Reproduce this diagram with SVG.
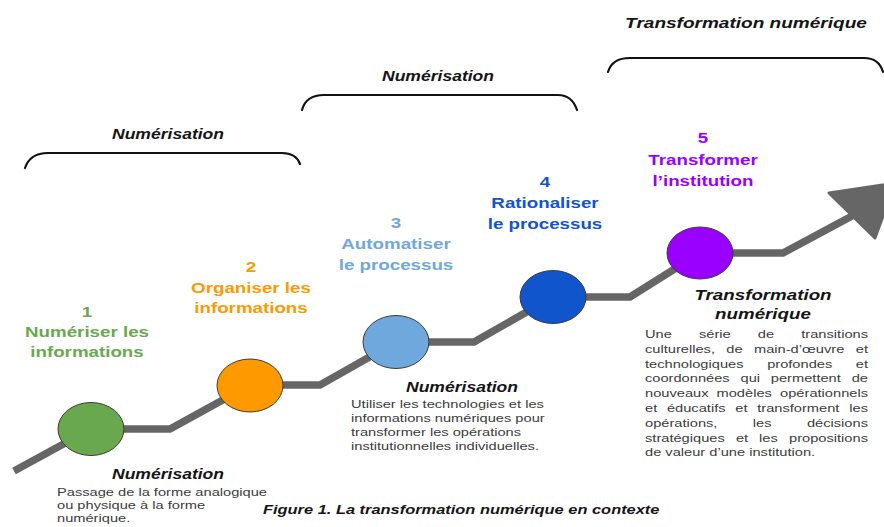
<svg xmlns="http://www.w3.org/2000/svg" width="884" height="527" viewBox="0 0 884 527">
<style>
text{font-family:"Liberation Sans",Arial,sans-serif}
.lbl{font-weight:bold;font-size:15px;text-anchor:middle}
.hd{font-weight:bold;font-style:italic;font-size:15px;fill:#151515;text-anchor:middle}
.body{font-size:11.5px;fill:#3c3c3c}
.end{text-anchor:end}
.brace{fill:none;stroke:#111;stroke-width:2.2;stroke-linecap:round}
.path{fill:none;stroke:#666;stroke-width:7.5;stroke-linejoin:miter}
.node{stroke:#3a3a3a;stroke-width:1}
</style>
<rect width="884" height="527" fill="#fff"/>

<g id="connectors">
<polyline class="path" points="14,471 91,429 170,429 250,385 320,385 396,342 474,342 553,297 630,297 700,253 783,253 852,216"/>
<polygon points="829,193 895,183 875,238" fill="#666" stroke="#666" stroke-width="3" stroke-linejoin="round"/>
</g>

<g id="brace-1">
<path class="brace" d="M25,168 Q30,153 48,153 L282,153 Q296,153 300,164"/>
<text class="hd" transform="translate(168,139) scale(1.17,1)">Numérisation</text>
</g>
<g id="brace-2">
<path class="brace" d="M302,110 Q306,95 324,95 L558,95 Q572,95 577,110"/>
<text class="hd" transform="translate(438,81) scale(1.17,1)">Numérisation</text>
</g>
<g id="brace-3">
<path class="brace" d="M608,72 Q612,58 630,58 L864,58 Q879,58 883,72"/>
<text class="hd" transform="translate(746,28) scale(1.27,1)">Transformation numérique</text>
</g>

<g id="step-1">
<ellipse class="node" cx="91" cy="429" rx="33" ry="26.5" fill="#6aa84f"/>
<g fill="#6aa84f">
<text class="lbl" transform="translate(87,317) scale(1.25,1)">1</text>
<text class="lbl" transform="translate(87,337) scale(1.25,1)">Numériser les</text>
<text class="lbl" transform="translate(87,357) scale(1.25,1)">informations</text>
</g>
<text class="hd" transform="translate(168,479) scale(1.17,1)">Numérisation</text>
<g transform="translate(57,0) scale(1.275,1)">
<text class="body" x="0" y="496">Passage de la forme analogique</text>
<text class="body" x="0" y="509">ou physique à la forme</text>
<text class="body" x="0" y="522">numérique.</text>
</g>
</g>

<g id="step-2">
<ellipse class="node" cx="250" cy="385.5" rx="33" ry="26.5" fill="#ff9900"/>
<g fill="#ff9900">
<text class="lbl" transform="translate(251,272) scale(1.25,1)">2</text>
<text class="lbl" transform="translate(251,293) scale(1.25,1)">Organiser les</text>
<text class="lbl" transform="translate(251,313) scale(1.25,1)">informations</text>
</g>
</g>

<g id="step-3">
<ellipse class="node" cx="396" cy="342" rx="33" ry="26.5" fill="#6fa8dc"/>
<g fill="#6fa8dc">
<text class="lbl" transform="translate(396,228) scale(1.25,1)">3</text>
<text class="lbl" transform="translate(396,249) scale(1.25,1)">Automatiser</text>
<text class="lbl" transform="translate(396,270) scale(1.25,1)">le processus</text>
</g>
<text class="hd" transform="translate(462,392) scale(1.17,1)">Numérisation</text>
<g transform="translate(351,0) scale(1.275,1)">
<text class="body" x="0" y="408">Utiliser les technologies et les</text>
<text class="body" x="0" y="422">informations numériques pour</text>
<text class="body" x="0" y="436">transformer les opérations</text>
<text class="body" x="0" y="450">institutionnelles individuelles.</text>
</g>
</g>

<g id="step-4">
<ellipse class="node" cx="553" cy="297" rx="33" ry="26.5" fill="#1155cc"/>
<g fill="#1155cc">
<text class="lbl" transform="translate(545,187) scale(1.25,1)">4</text>
<text class="lbl" transform="translate(545,208) scale(1.25,1)">Rationaliser</text>
<text class="lbl" transform="translate(545,229) scale(1.25,1)">le processus</text>
</g>
</g>

<g id="step-5">
<ellipse class="node" cx="700" cy="253" rx="33" ry="26" fill="#9900ff"/>
<g fill="#9900ff">
<text class="lbl" transform="translate(703,143) scale(1.25,1)">5</text>
<text class="lbl" transform="translate(703,165) scale(1.25,1)">Transformer</text>
<text class="lbl" transform="translate(703,186) scale(1.25,1)">l’institution</text>
</g>
<text class="hd" transform="translate(763,300) scale(1.25,1)">Transformation</text>
<text class="hd" transform="translate(763,319) scale(1.25,1)">numérique</text>
<g transform="translate(645,0) scale(1.275,1)">
<text class="body" y="338"><tspan x="0">Une</tspan><tspan x="42.3">série</tspan><tspan x="88.5">de</tspan></text>
<text class="body end" x="174.9" y="338">transitions</text>
<text class="body" y="352.8"><tspan x="0">culturelles,</tspan><tspan x="63.8">de</tspan><tspan x="85.5">main-d’œuvre</tspan></text>
<text class="body end" x="174.9" y="352.8">et</text>
<text class="body" y="367.6"><tspan x="0">technologiques</tspan><tspan x="95.8">profondes</tspan></text>
<text class="body end" x="174.9" y="367.6">et</text>
<text class="body" y="382.4"><tspan x="0">coordonnées</tspan><tspan x="74.9">qui</tspan><tspan x="98.7">permettent</tspan></text>
<text class="body end" x="174.9" y="382.4">de</text>
<text class="body" y="397.2"><tspan x="0">nouveaux</tspan><tspan x="56.1">modèles</tspan></text>
<text class="body end" x="174.9" y="397.2">opérationnels</text>
<text class="body" y="412"><tspan x="0">et</tspan><tspan x="17.2">éducatifs</tspan><tspan x="70.8">et</tspan><tspan x="88">transforment</tspan></text>
<text class="body end" x="174.9" y="412">les</text>
<text class="body" y="426.8"><tspan x="0">opérations,</tspan><tspan x="84.6">les</tspan></text>
<text class="body end" x="174.9" y="426.8">décisions</text>
<text class="body" y="441.6"><tspan x="0">stratégiques</tspan><tspan x="71.3">et</tspan><tspan x="89.5">les</tspan></text>
<text class="body end" x="174.9" y="441.6">propositions</text>
<text class="body" x="0" y="456.4">de valeur d’une institution.</text>
</g>
</g>

<text id="caption" class="hd" style="font-size:13.5px;text-anchor:start" transform="translate(263,514) scale(1.216,1)">Figure 1. La transformation numérique en contexte</text>
</svg>
